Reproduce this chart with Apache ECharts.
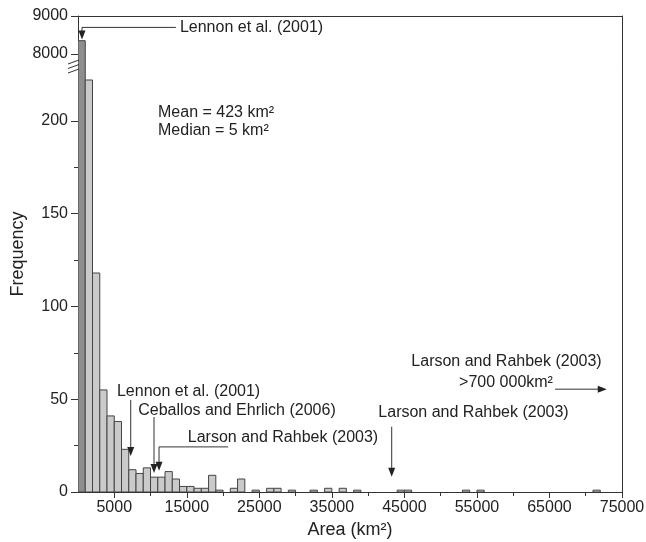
<!DOCTYPE html>
<html><head><meta charset="utf-8">
<script src="https://cdn.jsdelivr.net/npm/echarts@6/dist/echarts.min.js"></script>
<style>html,body{margin:0;padding:0;background:#fff}#c{width:646px;height:542px}</style>
</head><body><div id="c"></div>
<script>
// ---- data ----
const binWidth = 1000; // km²
const binStart = [0,1000,2000,3000,4000,5000,6000,7000,8000,9000,10000,11000,12000,13000,14000,15000,16000,17000,18000,19000,21000,22000,24000,26000,27000,29000,32000,34000,36000,38000,44000,45000,53000,55000,71000];
const frequency = [8350,222,118,55,41,38,23,12,10,13,8,8,11,7,3,3,2,2,9,1,2,7,1,2,2,1,1,2,2,1,1,1,1,1,1];
const xTickLabels = [5000,15000,25000,35000,45000,55000,65000,75000];
const xMinorTicks = [10000,20000,30000,40000,50000,60000,70000];
const yLowLabels = [0,50,100,150,200];
const yLowMinor = [25,75,125,175];
const yHighLabels = [8000,9000];

// ---- layout ----
const FONT = 'Liberation Sans, Arial, sans-serif';
const TXT = '#222';
const LINE = '#333';
const LOW_MAX = 229, UP_MIN = 7658, UP_MAX = 9000, X_MAX = 75000;
const L = 78, R = 24, TOP = 16, BRK = 67, BOT = 50;

const chart = echarts.init(document.getElementById('c'), null, {renderer: 'canvas'});

function renderBar(params, api) {
  const x0 = api.value(0), v = api.value(1);
  const p0 = api.coord([x0, 0]);
  const p1 = api.coord([x0 + binWidth, v]);
  return {
    type: 'rect',
    shape: {x: p0[0], y: p1[1], width: p1[0] - p0[0], height: p0[1] - p1[1]},
    style: {fill: params.dataIndex === 0 ? '#8e8e8e' : '#cacaca', stroke: '#444', lineWidth: 1}
  };
}
const barData = binStart.map((s, i) => [s, frequency[i]]);

const axisLineStyle = {show: true, lineStyle: {color: LINE, width: 1}};
const labelStyle = {color: TXT, fontFamily: FONT, fontSize: 16, formatter: v => String(v)};

chart.setOption({
  animation: false,
  backgroundColor: '#fff',
  textStyle: {fontFamily: FONT},
  grid: [
    {left: L, right: R, top: BRK, bottom: BOT, containLabel: false, outerBoundsMode: 'none'},
    {left: L, right: R, top: TOP, height: BRK - TOP, containLabel: false, outerBoundsMode: 'none'}
  ],
  xAxis: [
    {type: 'value', gridIndex: 0, min: 0, max: X_MAX, position: 'bottom',
     axisLine: axisLineStyle, splitLine: {show: false},
     axisTick: {show: true, length: 6, customValues: xTickLabels, lineStyle: {color: LINE}},
     axisLabel: Object.assign({margin: 8, customValues: xTickLabels, hideOverlap: false}, labelStyle),
     name: 'Area (km²)', nameLocation: 'middle', nameGap: 27,
     nameTextStyle: {color: TXT, fontFamily: FONT, fontSize: 18}},
    {type: 'value', gridIndex: 1, min: 0, max: X_MAX, position: 'top',
     axisLine: axisLineStyle, splitLine: {show: false}, axisTick: {show: false}, axisLabel: {show: false}},
    {type: 'value', gridIndex: 0, min: 0, max: X_MAX, position: 'bottom',
     axisLine: {show: false}, splitLine: {show: false},
     axisTick: {show: true, length: 4, customValues: xMinorTicks, lineStyle: {color: LINE}},
     axisLabel: {show: false}}
  ],
  yAxis: [
    {type: 'value', gridIndex: 0, min: 0, max: LOW_MAX, position: 'left',
     axisLine: axisLineStyle, splitLine: {show: false},
     axisTick: {show: true, length: 7, customValues: yLowLabels, lineStyle: {color: LINE}},
     axisLabel: Object.assign({margin: 10, customValues: yLowLabels}, labelStyle)},
    {type: 'value', gridIndex: 0, min: 0, max: LOW_MAX, position: 'left',
     axisLine: {show: false}, splitLine: {show: false},
     axisTick: {show: true, length: 4, customValues: yLowMinor, lineStyle: {color: LINE}},
     axisLabel: {show: false}},
    {type: 'value', gridIndex: 0, min: 0, max: LOW_MAX, position: 'right',
     axisLine: axisLineStyle, splitLine: {show: false}, axisTick: {show: false}, axisLabel: {show: false}},
    {type: 'value', gridIndex: 1, min: UP_MIN, max: UP_MAX, position: 'left',
     axisLine: axisLineStyle, splitLine: {show: false},
     axisTick: {show: true, length: 7, customValues: yHighLabels, lineStyle: {color: LINE}},
     axisLabel: Object.assign({margin: 10, customValues: yHighLabels}, labelStyle)},
    {type: 'value', gridIndex: 1, min: UP_MIN, max: UP_MAX, position: 'right',
     axisLine: axisLineStyle, splitLine: {show: false}, axisTick: {show: false}, axisLabel: {show: false}}
  ],
  series: [
    {type: 'custom', xAxisIndex: 0, yAxisIndex: 0, clip: true, renderItem: renderBar, data: barData},
    {type: 'custom', xAxisIndex: 1, yAxisIndex: 3, clip: true, renderItem: renderBar, data: barData}
  ]
});

// ---- annotations (positioned in data coordinates) ----
const low = p => chart.convertToPixel({xAxisIndex: 0, yAxisIndex: 0}, p);
const up = p => chart.convertToPixel({xAxisIndex: 1, yAxisIndex: 3}, p);
const G = [];
const lineEl = (pts) => ({type: 'polyline', shape: {points: pts}, style: {stroke: LINE, lineWidth: 1, fill: null}, z: 100});
const headDown = (t) => ({type: 'polygon', shape: {points: [[t[0]-3.5, t[1]-9], [t[0]+3.5, t[1]-9], [t[0], t[1]]]}, style: {fill: '#222'}, z: 101});
const headRight = (t) => ({type: 'polygon', shape: {points: [[t[0]-9, t[1]-3.5], [t[0]-9, t[1]+3.5], [t[0], t[1]]]}, style: {fill: '#222'}, z: 101});
const text = (p, s, align) => ({type: 'text', x: p[0], y: p[1], z: 102,
  style: {text: s, fill: TXT, font: '16px ' + FONT, align: align || 'center', verticalAlign: 'middle'}});

// Lennon et al. (2001) - top
{
  const tip = up([550, 8380]);
  const corner = up([550, 8700]);
  const end = up([13500, 8700]);
  G.push(lineEl([[tip[0], tip[1]-8], [corner[0], corner[1]], [end[0], end[1]]]));
  G.push(headDown(tip));
  G.push(text(up([14050, 8690]), 'Lennon et al. (2001)', 'left'));
}
// Mean / Median
G.push(text(low([11030, 204.5]), 'Mean = 423 km²', 'left'));
G.push(text(low([11030, 194.5]), 'Median = 5 km²', 'left'));
// Lennon et al. (2001) - lower
{
  const top = low([7270, 49.6]), tip = low([7270, 19.4]);
  G.push(lineEl([top, [tip[0], tip[1]-8]])); G.push(headDown(tip));
  G.push(text(low([15240, 54]), 'Lennon et al. (2001)'));
}
// Ceballos and Ehrlich (2006)
{
  const top = low([10480, 40.4]), tip = low([10480, 10.2]);
  G.push(lineEl([top, [tip[0], tip[1]-8]])); G.push(headDown(tip));
  G.push(text(low([21920, 43.7]), 'Ceballos and Ehrlich (2006)'));
}
// Larson and Rahbek (2003) - near 11000
{
  const a = low([20700, 24.3]), c = low([11170, 24.3]), tip = low([11170, 11.5]);
  G.push(lineEl([a, c, [tip[0], tip[1]-8]])); G.push(headDown(tip));
  G.push(text(low([28260, 29.1]), 'Larson and Rahbek (2003)'));
}
// Larson and Rahbek (2003) - near 43000
{
  const top = low([43250, 35.2]), tip = low([43250, 8.25]);
  G.push(lineEl([top, [tip[0], tip[1]-8]])); G.push(headDown(tip));
  G.push(text(low([54530, 42.6]), 'Larson and Rahbek (2003)'));
}
// Larson and Rahbek (2003) >700 000 km²
{
  const s = low([65770, 55.4]), tip = low([72900, 55.4]);
  G.push(lineEl([s, [tip[0]-8, tip[1]]])); G.push(headRight(tip));
  G.push(text(low([59080, 70.2]), 'Larson and Rahbek (2003)'));
  G.push(text(low([59010, 59]), '>700 000km²'));
}
// axis break marks
{
  const b = low([0, LOW_MAX]);
  [-5, -0.5, 4].forEach(d => G.push({type: 'line', z: 110,
    shape: {x1: b[0]-10, y1: b[1]+d+2, x2: b[0]+1, y2: b[1]+d-2}, style: {stroke: LINE, lineWidth: 1}}));
}
// y-axis title
G.push({type: 'text', x: 18, y: 254, rotation: Math.PI/2, z: 102,
  style: {text: 'Frequency', fill: TXT, font: '18px ' + FONT, align: 'center', verticalAlign: 'middle'}});

chart.setOption({graphic: G});
</script></body></html>
